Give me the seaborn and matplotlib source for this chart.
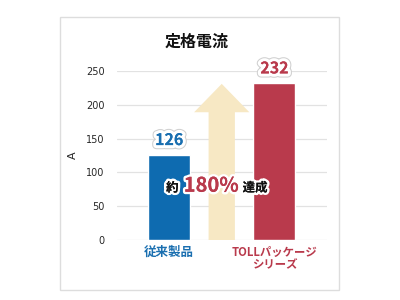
import matplotlib
matplotlib.use("Agg")
import matplotlib.pyplot as plt
import matplotlib.patheffects as pe
import matplotlib.transforms as mtrans
from matplotlib.patches import FancyArrow, Rectangle
import seaborn as sns
import pandas as pd

# ---- data ----
categories = ["従来製品", "", "TOLLパッケージ\nシリーズ"]
values = [126, 0, 232]
bar_colors = ["#0E6BB0", "#F7E8C4", "#B93A4C"]
label_colors = ["#1A6FB0", "#B93A4C"]
yticks = [0, 50, 100, 150, 200, 250]
title = "定格電流"
ylabel = "A"
ratio_text = ["約", "180%", "達成"]

sns.set_theme(style="white")
plt.rcParams["font.family"] = ["Noto Sans CJK JP", "DejaVu Sans"]

fig = plt.figure(figsize=(4, 3), dpi=100)
fig.patch.set_facecolor("white")
# outer frame
fig.patches.append(Rectangle((0.15, 0.0333), 0.6975, 0.91, transform=fig.transFigure,
                             fill=False, edgecolor="#DDDDDD", linewidth=1.0))

ax = fig.add_axes([0.2925, 0.2, 0.525, 0.5633])
df = pd.DataFrame({"cat": categories, "val": values})
sns.barplot(data=df, x="cat", y="val", hue="cat", palette=bar_colors,
            legend=False, width=0.8, ax=ax, saturation=1)

# arrow in middle position
ax.add_patch(FancyArrow(1, 0, 0, 231, width=0.5, head_width=1.05,
                        head_length=42, length_includes_head=True,
                        color=bar_colors[1], linewidth=0, zorder=2))

ax.set_ylim(0, 250)
ax.set_xlim(-0.99, 3.0)
ax.set_yticks(yticks)
ax.set_yticklabels([str(t) for t in yticks], fontsize=7, family="DejaVu Sans")
ax.yaxis.grid(True, color="#E2E2E2", linewidth=0.9)
ax.set_axisbelow(True)
for s in ax.spines.values():
    s.set_visible(False)
ax.tick_params(axis="y", length=0, pad=9)
ax.set_xlabel("")
ax.set_ylabel(ylabel, fontsize=8, family="DejaVu Sans", labelpad=6)

ax.set_xticks([0, 1, 2])
ax.set_xticklabels([categories[0], "", categories[2]], fontsize=9, fontweight="bold",
                   linespacing=0.95)
ticks = ax.get_xticklabels()
ticks[0].set_color(label_colors[0])
ticks[2].set_color(label_colors[1])
ticks[2].set_fontsize(8.2)
ticks[2].set_transform(ticks[2].get_transform() +
                       mtrans.ScaledTranslation(-11 / 100, 0, fig.dpi_scale_trans))
ax.tick_params(axis="x", length=0, pad=4)

# value labels
effects = [pe.withStroke(linewidth=6, foreground="#D0D0D0"),
           pe.withStroke(linewidth=4.5, foreground="white"), pe.Normal()]
for i, v, c in [(0, values[0], label_colors[0]), (2, values[2], label_colors[1])]:
    ax.text(i, v + 10, str(v), ha="center", va="bottom", fontsize=11.5,
            fontweight="bold", color=c, path_effects=effects, clip_on=False, zorder=5)

# ratio text
stroke = [pe.withStroke(linewidth=3.5, foreground="white"), pe.Normal()]
ax.annotate(ratio_text[1], xy=(1, 81), xytext=(-7.6, 0), textcoords="offset points",
            ha="center", va="center", fontsize=14.5,
            fontweight="bold", color=label_colors[1], path_effects=stroke, zorder=6)
ax.annotate(ratio_text[0], xy=(1, 81), xytext=(-35.6, -2), textcoords="offset points",
            ha="center", va="center", fontsize=9, fontweight="bold", color="#111111",
            path_effects=stroke, zorder=6)
ax.annotate(ratio_text[2], xy=(1, 81), xytext=(24, -2), textcoords="offset points",
            ha="center", va="center", fontsize=9, fontweight="bold", color="#111111",
            path_effects=stroke, zorder=6)

fig.text(0.4925, 0.86, title, ha="center", va="center", fontsize=11.5, fontweight="bold",
         color="#111111")

fig.savefig("out.png", dpi=100, facecolor="white")
